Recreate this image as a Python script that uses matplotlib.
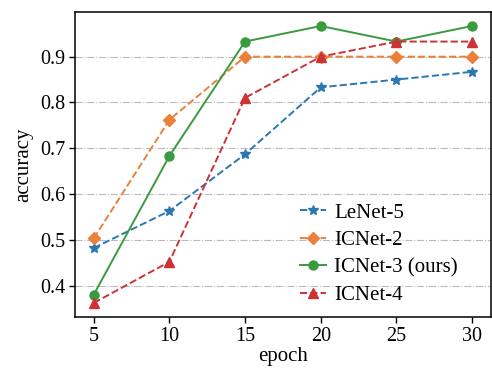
import matplotlib
matplotlib.use("Agg")
import matplotlib.pyplot as plt

epochs = [5, 10, 15, 20, 25, 30]
lenet5 = [0.482, 0.563, 0.687, 0.833, 0.850, 0.867]
icnet2 = [0.503, 0.762, 0.900, 0.900, 0.900, 0.900]
icnet3 = [0.380, 0.683, 0.933, 0.967, 0.933, 0.967]
icnet4 = [0.362, 0.452, 0.810, 0.900, 0.933, 0.933]
labels = ["LeNet-5", "ICNet-2", "ICNet-3 (ours)", "ICNet-4"]

plt.rcParams['font.family'] = ['Liberation Serif', 'DejaVu Serif']
plt.rcParams['mathtext.fontset'] = 'stix'

fig = plt.figure(figsize=(4.92, 3.68), dpi=100)
ax = fig.add_axes([0.152, 0.139, 0.846, 0.828])

ax.plot(epochs, lenet5, '--', marker='*', color='#2a77b2', markersize=7.5, lw=1.4, label=labels[0])
ax.plot(epochs, icnet2, '--', marker='D', color='#ea813a', markersize=6.5, lw=1.4, label=labels[1])
ax.plot(epochs, icnet3, '-', marker='o', color='#3a9a3e', markersize=6.5, lw=1.4, label=labels[2])
ax.plot(epochs, icnet4, '--', marker='^', color='#cc3236', markersize=7, lw=1.4, label=labels[3])

ax.set_xticks(epochs)
ax.set_yticks([0.4, 0.5, 0.6, 0.7, 0.8, 0.9])
ax.yaxis.grid(True, linestyle='-.', color='#bbbbbb', lw=0.8)
ax.set_axisbelow(True)
ax.tick_params(labelsize=14.5, direction='out', length=4, width=1, pad=3)
for s in ax.spines.values():
    s.set_linewidth(1.1)
ax.set_xlabel('epoch', fontsize=15, labelpad=1)
ax.set_ylabel('accuracy', fontsize=15, labelpad=5)
ax.legend(loc='lower right', frameon=False, fontsize=15, bbox_to_anchor=(0.965, -0.023),
          handlelength=1.25, labelspacing=0.38, handletextpad=0.4)

fig.savefig('out.png', dpi=100)
